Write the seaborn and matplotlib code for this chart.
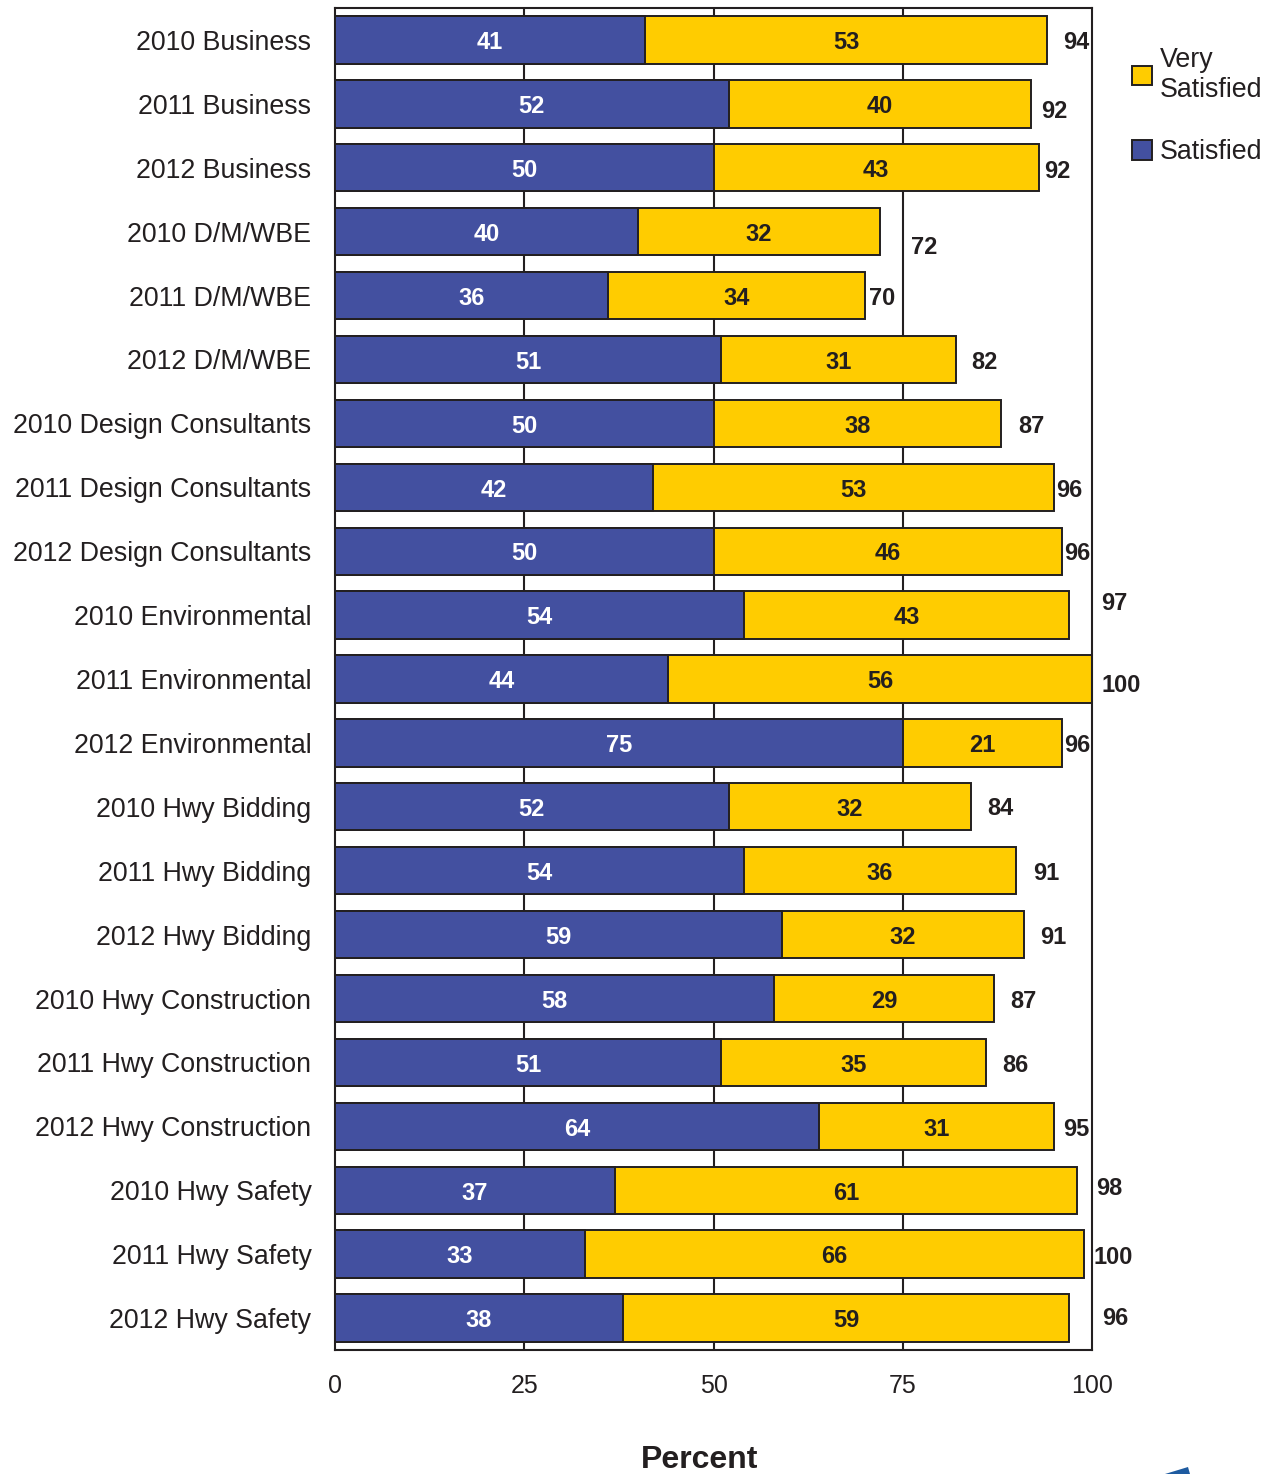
import matplotlib
matplotlib.use("Agg")
import matplotlib.pyplot as plt
import matplotlib.patches as mpatches
import numpy as np
import pandas as pd
import seaborn as sns

# Survey groups and satisfaction shares (percent)
categories = [
    "2010 Business", "2011 Business", "2012 Business",
    "2010 D/M/WBE", "2011 D/M/WBE", "2012 D/M/WBE",
    "2010 Design Consultants", "2011 Design Consultants", "2012 Design Consultants",
    "2010 Environmental", "2011 Environmental", "2012 Environmental",
    "2010 Hwy Bidding", "2011 Hwy Bidding", "2012 Hwy Bidding",
    "2010 Hwy Construction", "2011 Hwy Construction", "2012 Hwy Construction",
    "2010 Hwy Safety", "2011 Hwy Safety", "2012 Hwy Safety",
]
satisfied = [41, 52, 50, 40, 36, 51, 50, 42, 50, 54, 44, 75, 52, 54, 59, 58, 51, 64, 37, 33, 38]
very_satisfied = [53, 40, 43, 32, 34, 31, 38, 53, 46, 43, 56, 21, 32, 36, 32, 29, 35, 31, 61, 66, 59]
totals = [94, 92, 92, 72, 70, 82, 87, 96, 96, 97, 100, 96, 84, 91, 91, 87, 86, 95, 98, 100, 96]
x_ticks = [0, 25, 50, 75, 100]

# Nudges (points) for the total labels at the bar ends
total_dx = [12, 7, 4, 22, 3, 11, 12, 1.5, 1.5, 23, 6.5, 2, 12, 12, 12, 12, 12, 6.5, 14, 6.5, 24]
total_dy = [0, -3.6, -0.7, -9.4, 0, 0, 0, 0, 0, 10, -3, 0, 0.7, 0, 0, 0, 0, 0, 3, -0.7, 2]
BASE_DY = -2  # optical centring of bold digits

BLUE = "#4350A0"
YELLOW = "#FFCC00"
INK = "#231F20"

df = pd.DataFrame({
    "group": categories,
    "satisfied": satisfied,
    "very": very_satisfied,
})
df["cum"] = df["satisfied"] + df["very"]

sns.set_theme(style="white")
plt.rcParams["font.family"] = ["Liberation Sans", "DejaVu Sans"]

fig = plt.figure(figsize=(12.76, 14.74), dpi=100)
ax = fig.add_axes([335 / 1276, 1 - 1350 / 1474, (1092 - 335) / 1276, (1350 - 8) / 1474])

# Gridlines behind the bars
for g in [25, 50, 75]:
    ax.axvline(g, color=INK, lw=1.5, zorder=0)

sns.barplot(data=df, x="cum", y="group", color=YELLOW, saturation=1, width=0.74,
            edgecolor=INK, linewidth=1.4, ax=ax, zorder=2, orient="h")
sns.barplot(data=df, x="satisfied", y="group", color=BLUE, saturation=1, width=0.74,
            edgecolor=INK, linewidth=1.4, ax=ax, zorder=3, orient="h")

label_kw = dict(textcoords="offset points", va="center", fontsize=17,
                fontweight="bold", zorder=5, annotation_clip=False)
for i in range(len(categories)):
    s, v, t = satisfied[i], very_satisfied[i], totals[i]
    ax.annotate(str(s), xy=(s / 2, i), xytext=(0, BASE_DY), ha="center",
                color="white", **label_kw)
    ax.annotate(str(v), xy=(s + v / 2, i), xytext=(0, BASE_DY), ha="center",
                color=INK, **label_kw)
    ax.annotate(str(t), xy=(s + v, i), xytext=(total_dx[i], total_dy[i] + BASE_DY),
                ha="left", color=INK, **label_kw)

ax.set_xlim(0, 100)
ax.set_ylim(20.5, -0.5)
ax.set_xticks(x_ticks)
ax.set_xticklabels([str(v) for v in x_ticks])
ax.set_xlabel("")
ax.set_ylabel("")
ax.tick_params(axis="y", length=0, pad=17, labelsize=19.3, labelcolor=INK)
ax.tick_params(axis="x", length=0, pad=17, labelsize=18, labelcolor=INK)
for sp in ax.spines.values():
    sp.set_visible(True)
    sp.set_color(INK)
    sp.set_linewidth(1.5)

fig.text(700 / 1276, 1 - 1460 / 1474, "Percent", ha="center", va="center",
         fontsize=23, fontweight="bold", color=INK)

handles = [
    mpatches.Patch(facecolor=YELLOW, edgecolor=INK, linewidth=1.4, label="Very\nSatisfied"),
    mpatches.Patch(facecolor=BLUE, edgecolor=INK, linewidth=1.4, label="Satisfied"),
]
fig.legend(handles=handles, loc="upper left", bbox_to_anchor=(1132 / 1276, 1 - 47 / 1474),
           frameon=False, fontsize=19.3, handlelength=0.75, handleheight=0.75,
           handletextpad=0.3, labelspacing=1.35, borderaxespad=0, borderpad=0,
           labelcolor=INK)

# Corner mark
fig.patches.append(mpatches.Polygon(
    [[1165 / 1276, 0.0], [1190 / 1276, 0.0], [1188 / 1276, 7 / 1474]],
    closed=True, transform=fig.transFigure, facecolor="#1E5BA0", edgecolor="none"))

fig.savefig("out.png", dpi=100)
